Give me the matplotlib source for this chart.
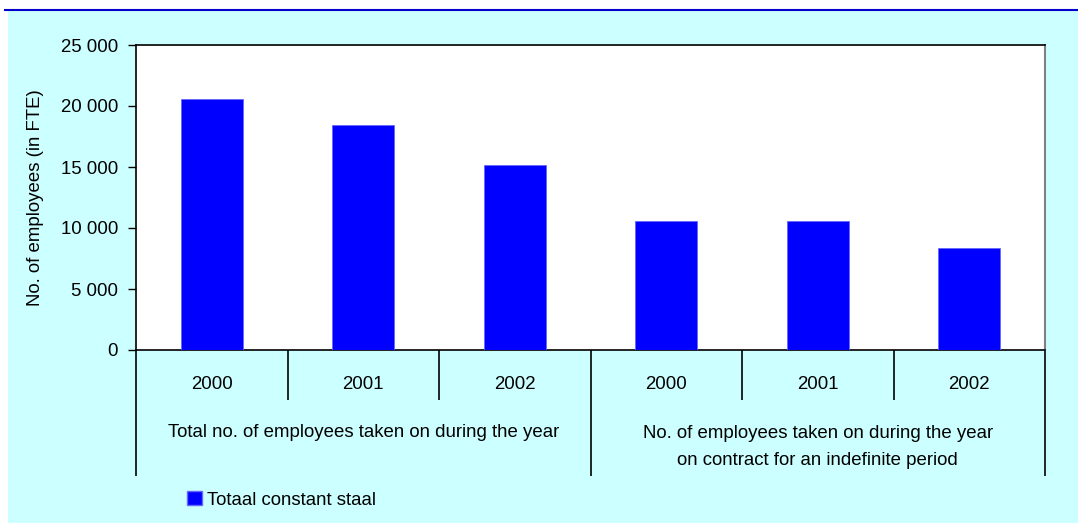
import matplotlib
matplotlib.use("Agg")
import matplotlib.pyplot as plt
from matplotlib import font_manager
from matplotlib.patches import Rectangle
from matplotlib.lines import Line2D
from matplotlib.ticker import FuncFormatter

# narrow font if there is one, else plain Liberation Sans at a smaller size
names = {f.name for f in font_manager.fontManager.ttflist}
if "Liberation Sans Narrow" in names:
    plt.rcParams['font.family'] = ['Liberation Sans Narrow', 'DejaVu Sans']
    FS = 16
else:
    plt.rcParams['font.family'] = ['Liberation Sans', 'DejaVu Sans']
    FS = 13.4

# data
years = ["2000", "2001", "2002", "2000", "2001", "2002"]
groups = ["Total no. of employees taken on during the year",
          "No. of employees taken on during the year\non contract for an indefinite period"]
values = [20600, 18450, 15200, 10600, 10600, 8330]
series_name = "Totaal constant staal"
yticks = [0, 5000, 10000, 15000, 20000, 25000]

W, H = 1078, 523
fig = plt.figure(figsize=(W / 100, H / 100), dpi=100)
fig.patch.set_facecolor("white")

# cyan panel + blue rule on top
fig.patches.append(Rectangle((8 / W, 0), 1 - 8 / W, 1 - 10 / H, transform=fig.transFigure,
                             facecolor="#CCFFFF", edgecolor="none", zorder=-5))
fig.lines.append(Line2D([5 / W, 1], [1 - 9.5 / H, 1 - 9.5 / H], transform=fig.transFigure,
                        color="#0000CC", lw=1.5, zorder=-4))

ax = fig.add_axes([136 / W, 1 - 350 / H, 909 / W, 305 / H])
ax.set_zorder(2)
ax.set_facecolor("white")
x = list(range(len(values)))
ax.bar(x, values, width=0.41, color="#0000FF", edgecolor="#6666FF", linewidth=0.6, zorder=3)
ax.set_xlim(-0.5, len(values) - 0.5)
ax.set_ylim(0, 25000)

ax.set_yticks(yticks)
ax.yaxis.set_major_formatter(FuncFormatter(lambda v, p: f"{int(v):,}".replace(",", " ")))
ax.tick_params(axis="y", direction="out", length=6, width=1, labelsize=FS, pad=7)
ax.set_ylabel("No. of employees (in FTE)", fontsize=FS, labelpad=12)

# category axis: separators as ticks
ax.set_xticks([-0.5, 2.5, 5.5])
ax.set_xticks([0.5, 1.5, 3.5, 4.5], minor=True)
ax.tick_params(axis="x", which="major", direction="out", length=91, width=1.2, labelbottom=False)
ax.tick_params(axis="x", which="minor", direction="out", length=36, width=1.2, labelbottom=False)

for s in ["left", "bottom", "top"]:
    ax.spines[s].set_color("black")
    ax.spines[s].set_linewidth(1.2)
ax.spines["right"].set_color("#808080")
ax.spines["right"].set_linewidth(1.5)

trans = ax.get_xaxis_transform()
for i, yr in enumerate(years):
    ax.text(i, -0.112, yr, transform=trans, ha="center", va="center", fontsize=FS)
ax.text(1, -0.272, groups[0], transform=trans, ha="center", va="center", fontsize=FS)
ax.text(4, -0.318, groups[1], transform=trans, ha="center", va="center", fontsize=FS,
        linespacing=1.75)

# legend
leg = fig.legend([Rectangle((0, 0), 1, 1, facecolor="#0000FF", edgecolor="#6666FF")],
                 [series_name], loc="center left", bbox_to_anchor=(187 / W, 1 - 500 / H),
                 frameon=False, fontsize=FS, handlelength=0.8, handleheight=0.8,
                 handletextpad=0.3, borderaxespad=0, borderpad=0)

fig.savefig("out.png", dpi=100, facecolor=fig.get_facecolor())
